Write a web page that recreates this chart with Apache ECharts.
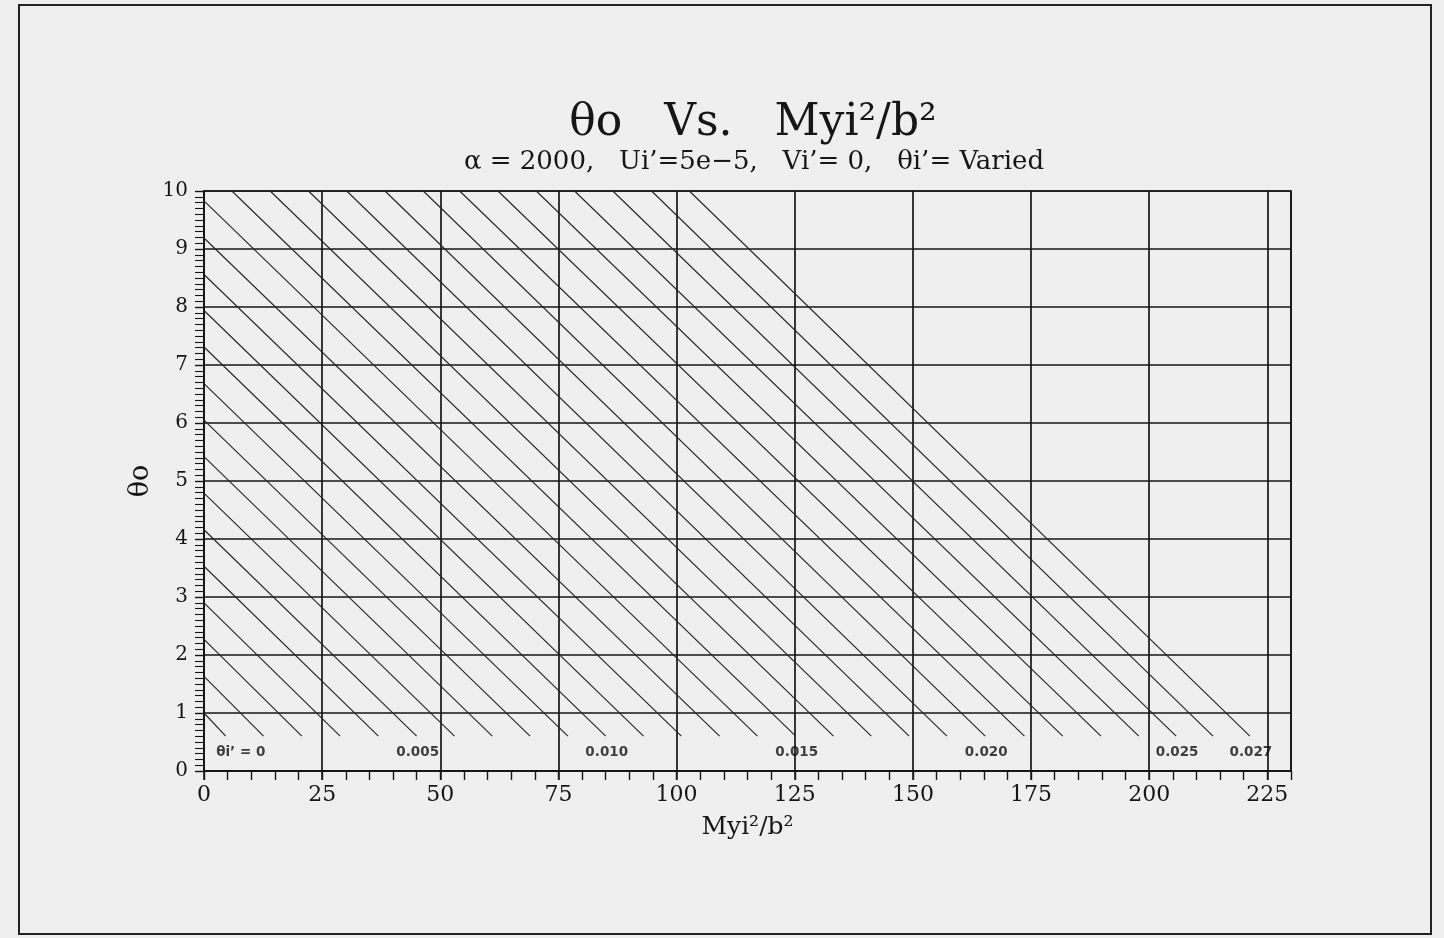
<!DOCTYPE html>
<html>
<head>
<meta charset="utf-8">
<title>θo Vs. Myi²/b²</title>
<script src="https://cdn.jsdelivr.net/npm/echarts@6/dist/echarts.min.js"></script>
<style>
  html, body { margin: 0; padding: 0; background: #efefef; }
  #chart { width: 1444px; height: 938px; }
</style>
</head>
<body>
<div id="chart"></div>
<script>
// θi' for each line of the family
const thetaI = [0, 0.001, 0.002, 0.003, 0.004, 0.005, 0.006, 0.007, 0.008, 0.009,
  0.010, 0.011, 0.012, 0.013, 0.014, 0.015, 0.016, 0.017, 0.018, 0.019,
  0.020, 0.021, 0.022, 0.023, 0.024, 0.025, 0.026, 0.027];

// first point of each line (on the left axis or on the θo = 10 edge)
const startX = [0, 0, 0, 0, 0, 0, 0, 0, 0, 0, 0, 0, 0, 0, 0,
  5.9, 14.0, 22.1, 30.2, 38.3, 46.4, 54.1, 62.2, 70.3, 78.4, 86.5, 94.7, 102.7];
const startY = [1.00, 1.63, 2.27, 2.90, 3.53, 4.16, 4.79, 5.42, 6.05, 6.68, 7.31, 7.94, 8.56, 9.19, 9.83,
  10, 10, 10, 10, 10, 10, 10, 10, 10, 10, 10, 10, 10];

// last point of each line
const endX = [4.6, 12.6, 20.7, 28.8, 36.9, 45.0, 53.0, 61.0, 69.0, 77.0,
  85.0, 93.0, 101.0, 109.1, 117.1, 125.2, 133.2, 141.2, 149.2, 157.2,
  165.3, 173.6, 181.7, 189.8, 197.8, 205.7, 213.5, 221.3];
const endY = [0.6, 0.6, 0.6, 0.6, 0.6, 0.6, 0.6, 0.6, 0.6, 0.6,
  0.6, 0.6, 0.6, 0.6, 0.6, 0.6, 0.6, 0.6, 0.6, 0.6,
  0.6, 0.6, 0.6, 0.6, 0.6, 0.6, 0.6, 0.6];

// lines that carry a θi' label, and the label text
const labelledIndex = [0, 5, 10, 15, 20, 25, 27];
const labelText = ['θi’ = 0', '0.005', '0.010', '0.015', '0.020', '0.025', '0.027'];

const xTicks = [0, 25, 50, 75, 100, 125, 150, 175, 200, 225];
const yTicks = [0, 1, 2, 3, 4, 5, 6, 7, 8, 9, 10];

const INK = '#161616';
const SERIF = '"DejaVu Serif", "Liberation Serif", serif';

const lineSeries = thetaI.map((t, i) => ({
  type: 'line',
  name: String(t),
  xAxisIndex: 0,
  yAxisIndex: 0,
  data: [[startX[i], startY[i]], [endX[i], endY[i]]],
  symbol: 'none',
  silent: true,
  animation: false,
  lineStyle: { color: '#262626', width: 1.15 }
}));

const labelSeries = {
  type: 'scatter',
  xAxisIndex: 0,
  yAxisIndex: 0,
  symbolSize: 0,
  silent: true,
  animation: false,
  data: labelledIndex.map((k, j) => ({
    value: [endX[k], endY[k], labelText[j]],
    label: { offset: [k === 0 ? 15 : 1, 16] }
  })),
  label: {
    show: true,
    position: 'inside',
    formatter: p => p.value[2],
    color: '#111',
    fontFamily: '"DejaVu Sans", "Liberation Sans", sans-serif',
    fontWeight: 'bold',
    fontSize: 13.5
  }
};

const chart = echarts.init(document.getElementById('chart'), null, { renderer: 'canvas' });

chart.setOption({
  backgroundColor: '#efefef',
  animation: false,
  title: [
    {
      text: 'θo   Vs.   Myi²/b²',
      left: 748,
      top: 97,
      textAlign: 'center',
      textStyle: { fontFamily: SERIF, fontWeight: 'normal', fontSize: 44, color: INK }
    },
    {
      text: 'α = 2000,   Ui’=5e−5,   Vi’= 0,   θi’= Varied',
      left: 749,
      top: 144,
      textAlign: 'center',
      textStyle: { fontFamily: SERIF, fontWeight: 'normal', fontSize: 26, color: INK }
    }
  ],
  graphic: [
    {
      type: 'rect',
      shape: { x: 19, y: 5, width: 1412, height: 929 },
      style: { fill: 'none', stroke: '#222', lineWidth: 2 },
      silent: true
    }
  ],
  grid: {
    left: 204,
    right: 153,
    top: 191,
    bottom: 167,
    show: true,
    borderColor: INK,
    borderWidth: 1.7,
    backgroundColor: 'transparent'
  },
  xAxis: [
    {
      type: 'value',
      min: 0,
      max: 230,
      interval: 25,
      name: 'Myi²/b²',
      nameLocation: 'middle',
      nameGap: 44,
      nameTextStyle: { fontFamily: SERIF, fontSize: 25, color: INK },
      axisLine: { show: true, lineStyle: { color: INK, width: 1.9 } },
      axisTick: { show: true, inside: false, length: 9, lineStyle: { color: INK, width: 1.5 } },
      axisLabel: {
        show: true,
        margin: 13,
        showMaxLabel: false,
        fontFamily: SERIF,
        fontSize: 22,
        color: INK,
        formatter: v => (xTicks.indexOf(v) >= 0 ? String(v) : '')
      },
      splitLine: { show: true, lineStyle: { color: INK, width: 1.7 } }
    },
    {
      // minor ticks every 5 units along the bottom edge
      type: 'value',
      min: 0,
      max: 230,
      interval: 5,
      position: 'bottom',
      axisLine: { show: false },
      axisTick: { show: true, inside: false, length: 9, lineStyle: { color: INK, width: 1.4 } },
      axisLabel: { show: false },
      splitLine: { show: false }
    }
  ],
  yAxis: [
    {
      type: 'value',
      min: 0,
      max: 10,
      interval: 1,
      name: 'θo',
      nameLocation: 'middle',
      nameGap: 50,
      nameMoveOverlap: false,
      nameRotate: 90,
      nameTextStyle: { fontFamily: SERIF, fontSize: 27, color: INK },
      axisLine: { show: true, lineStyle: { color: INK, width: 1.9 } },
      axisTick: { show: true, inside: false, length: 9, lineStyle: { color: INK, width: 1.4 } },
      minorTick: { show: true, splitNumber: 10, length: 9, lineStyle: { color: INK, width: 1.1 } },
      axisLabel: {
        show: true,
        margin: 16,
        fontFamily: SERIF,
        fontSize: 20,
        color: INK,
        formatter: v => (yTicks.indexOf(v) >= 0 ? String(v) : '')
      },
      splitLine: { show: true, lineStyle: { color: INK, width: 1.7 } }
    }
  ],
  series: lineSeries.concat([labelSeries])
});
</script>
</body>
</html>
